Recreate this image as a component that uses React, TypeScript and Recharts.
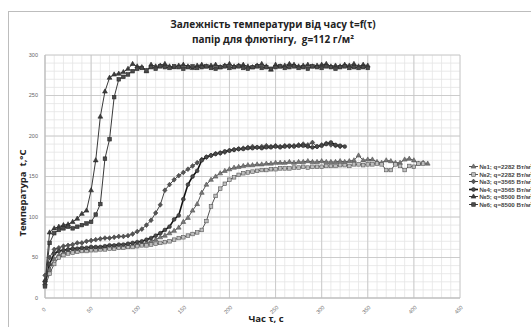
import React from 'react'
import { LineChart, Line, XAxis, YAxis, CartesianGrid } from 'recharts'

// time samples, s
const t1 = Array.from({ length: 84 }, (_, i) => i * 5)
const t2 = Array.from({ length: 83 }, (_, i) => i * 5)
const t3 = Array.from({ length: 65 }, (_, i) => i * 5)
const t4 = Array.from({ length: 66 }, (_, i) => i * 5)
const t5 = Array.from({ length: 71 }, (_, i) => i * 5)
const t6 = Array.from({ length: 71 }, (_, i) => i * 5)

// temperatures, °C
const s1 = [18, 35, 48, 53, 56, 57, 58, 59, 59, 60, 60, 61, 61, 62, 62, 63, 63, 64, 64, 65, 66, 67, 68, 70, 72, 75, 77, 80, 83, 87, 94, 99, 108, 116, 130, 140, 146, 150, 154, 157, 159, 161, 162, 163, 164, 164, 165, 165, 166, 166, 167, 167, 167, 168, 167, 168, 168, 169, 168, 168, 169, 168, 168, 168, 169, 168, 169, 170, 176, 170, 171, 171, 168, 167, 170, 169, 167, 167, 171, 172, 170, 166, 167, 166]
const s2 = [14, 30, 42, 50, 53, 55, 56, 57, 58, 58, 59, 59, 60, 60, 61, 61, 62, 62, 63, 63, 64, 65, 65, 66, 67, 68, 69, 70, 72, 74, 75, 77, 79, 81, 84, 95, 113, 126, 135, 141, 146, 149, 152, 154, 155, 156, 157, 158, 158, 159, 159, 160, 160, 160, 161, 161, 162, 161, 162, 162, 162, 163, 163, 163, 164, 164, 163, 165, 165, 164, 165, 165, 166, 165, 158, 158, 165, 163, 158, 163, 162, 166, 166]
const s3 = [28, 50, 60, 62, 64, 65, 66, 68, 68, 70, 71, 72, 73, 74, 74, 75, 76, 76, 77, 79, 82, 85, 90, 96, 105, 115, 133, 140, 146, 151, 155, 159, 163, 167, 171, 174, 176, 178, 179, 180, 182, 183, 184, 185, 186, 187, 186, 187, 188, 187, 188, 187, 188, 187, 188, 189, 190, 189, 192, 187, 189, 191, 189, 188, 187]
const s4 = [20, 42, 55, 58, 59, 60, 61, 61, 62, 62, 63, 63, 63, 64, 65, 65, 66, 66, 67, 68, 69, 70, 72, 74, 77, 80, 84, 88, 97, 102, 122, 140, 150, 157, 170, 174, 176, 178, 179, 181, 182, 183, 184, 184, 185, 185, 186, 185, 186, 186, 187, 186, 187, 188, 187, 188, 188, 187, 186, 187, 188, 190, 192, 189, 188, 187]
const s5 = [22, 81, 86, 88, 90, 91, 94, 98, 104, 108, 133, 170, 224, 255, 272, 276, 277, 279, 283, 289, 286, 285, 280, 288, 286, 287, 289, 286, 285, 287, 288, 286, 284, 287, 288, 286, 287, 288, 285, 287, 289, 286, 287, 288, 286, 285, 287, 289, 286, 282, 288, 286, 287, 289, 288, 286, 287, 288, 286, 287, 288, 289, 286, 287, 286, 288, 287, 289, 286, 288, 287]
const s6 = [15, 68, 80, 84, 86, 88, 86, 88, 90, 92, 94, 103, 116, 172, 196, 248, 270, 273, 276, 280, 283, 284, 281, 285, 283, 286, 285, 284, 286, 285, 283, 285, 286, 284, 285, 286, 284, 283, 285, 286, 284, 285, 286, 284, 283, 285, 286, 284, 285, 283, 285, 286, 284, 285, 286, 284, 285, 283, 286, 285, 284, 286, 285, 283, 285, 286, 284, 285, 284, 285, 284]

const names = [
  '№1; q=2282 Вт/м²',
  '№2; q=2282 Вт/м²',
  '№3; q=3565 Вт/м²',
  '№4; q=3565 Вт/м²',
  '№5; q=8500 Вт/м²',
  '№6; q=8500 Вт/м²',
]

const xTicks = [0, 50, 100, 150, 200, 250, 300, 350, 400, 450]
const yTicks = [0, 50, 100, 150, 200, 250, 300]
const xMinor = Array.from({ length: 46 }, (_, i) => i * 10)
const yMinor = Array.from({ length: 31 }, (_, i) => i * 10)

const toRows = (ts: number[], vs: number[]) => ts.map((t, i) => ({ t, v: vs[i] }))

type Shape = 'triangle' | 'square' | 'diamond' | 'circle'

interface SeriesCfg {
  name: string
  rows: { t: number; v: number }[]
  shape: Shape
  fill: string
  stroke: string
  line: string
  width: number
}

const series: SeriesCfg[] = [
  { name: names[0], rows: toRows(t1, s1), shape: 'triangle', fill: '#777', stroke: '#555', line: '#555', width: 1 },
  { name: names[1], rows: toRows(t2, s2), shape: 'square', fill: '#bdbdbd', stroke: '#555', line: '#555', width: 1 },
  { name: names[2], rows: toRows(t3, s3), shape: 'diamond', fill: '#555', stroke: '#3a3a3a', line: '#444', width: 1 },
  { name: names[3], rows: toRows(t4, s4), shape: 'circle', fill: '#4a4a4a', stroke: '#2a2a2a', line: '#111', width: 1.6 },
  { name: names[4], rows: toRows(t5, s5), shape: 'triangle', fill: '#3c3c3c', stroke: '#2a2a2a', line: '#3a3a3a', width: 1 },
  { name: names[5], rows: toRows(t6, s6), shape: 'square', fill: '#4a4a4a', stroke: '#2a2a2a', line: '#3a3a3a', width: 1 },
]

// map a value through whatever scale object the axis hands over
function project(axis: any, v: number, lo: number, hi: number, start: number, size: number, flip: boolean) {
  const sc = axis && axis.scale
  if (typeof sc === 'function') return sc(v)
  if (sc && typeof sc.map === 'function') return sc.map(v)
  const f = (v - lo) / (hi - lo)
  return flip ? start + size * (1 - f) : start + size * f
}

function marker(shape: Shape, cx: number, cy: number, fill: string, stroke: string, k?: any) {
  if (shape === 'triangle')
    return <path key={k} d={`M${cx},${cy - 2.6}L${cx + 2.4},${cy + 1.6}L${cx - 2.4},${cy + 1.6}Z`} fill={fill} stroke={stroke} strokeWidth={0.6} />
  if (shape === 'square')
    return <rect key={k} x={cx - 1.8} y={cy - 1.8} width={3.6} height={3.6} fill={fill} stroke={stroke} strokeWidth={0.6} />
  if (shape === 'diamond')
    return <path key={k} d={`M${cx},${cy - 2.4}L${cx + 2.2},${cy}L${cx},${cy + 2.4}L${cx - 2.2},${cy}Z`} fill={fill} stroke={stroke} strokeWidth={0.6} />
  return <circle key={k} cx={cx} cy={cy} r={1.9} fill={fill} stroke={stroke} strokeWidth={0.6} />
}

const makeDot = (s: SeriesCfg) => (p: any) => {
  if (p.cx == null || p.cy == null) return <g key={p.index} />
  return marker(s.shape, p.cx, p.cy, s.fill, s.stroke, p.index)
}

const XTick = (p: any) => (
  <g transform={`translate(${p.x},${p.y + 5})`}>
    <text transform="rotate(-45)" textAnchor="middle" fontSize={5.5} fill="#666" fontFamily="'Liberation Sans', sans-serif">
      {p.payload.value}
    </text>
  </g>
)

const LegendBox = () => (
  <div style={{ position: 'absolute', left: 469, top: 163, fontFamily: "'Liberation Sans', sans-serif", fontSize: 6.2, fontWeight: 700, color: '#444', whiteSpace: 'nowrap' }}>
    {series.map((s) => (
      <div key={s.name} style={{ height: 7.5, display: 'flex', alignItems: 'center' }}>
        <svg width={9} height={7} style={{ marginRight: 1.5 }}>
          <line x1={0} y1={3.5} x2={9} y2={3.5} stroke={s.line} strokeWidth={s.width} />
          {marker(s.shape, 4.5, 3.5, s.fill, s.stroke)}
        </svg>
        <span>{s.name}</span>
      </div>
    ))}
  </div>
)

export default function App() {
  const font = "'Open Sans', sans-serif"
  return (
    <div style={{ position: 'absolute', left: 0, top: 0, width: 531, height: 327, overflow: 'hidden', background: '#fff' }}>
      <div style={{ position: 'absolute', left: 8, top: 11, width: 540, height: 340, border: '1px solid #bdbdbd' }} />
      <div style={{ position: 'absolute', left: 0, top: 17, width: 546, textAlign: 'center', fontFamily: font, fontWeight: 700, fontSize: 10, lineHeight: '15px', color: '#222' }}>
        <div>Залежність температури від часу t=f(τ)</div>
        <div>папір для флютінгу,&nbsp; g=112 г/м²</div>
      </div>
      <LineChart width={531} height={327} margin={{ top: 55, right: 71, left: 0, bottom: 0 }} style={{ position: 'absolute', left: 0, top: 0 }}>
        <CartesianGrid
          stroke="#e4e4e4"
          strokeWidth={0.8}
          verticalCoordinatesGenerator={({ xAxis, offset }: any) => xMinor.map((v) => project(xAxis, v, 0, 450, offset.left, offset.width, false))}
          horizontalCoordinatesGenerator={({ yAxis, offset }: any) => yMinor.map((v) => project(yAxis, v, 0, 300, offset.top, offset.height, true))}
        />
        <CartesianGrid
          stroke="#c4c4c4"
          strokeWidth={0.8}
          verticalCoordinatesGenerator={({ xAxis, offset }: any) => xTicks.map((v) => project(xAxis, v, 0, 450, offset.left, offset.width, false))}
          horizontalCoordinatesGenerator={({ yAxis, offset }: any) => yTicks.map((v) => project(yAxis, v, 0, 300, offset.top, offset.height, true))}
        />
        <XAxis
          type="number"
          dataKey="t"
          domain={[0, 450]}
          ticks={xTicks}
          tick={<XTick />}
          tickLine={false}
          axisLine={{ stroke: '#bbb' }}
          height={29}
          interval={0}
          allowDuplicatedCategory={false}
        />
        <YAxis
          type="number"
          dataKey="v"
          domain={[0, 300]}
          ticks={yTicks}
          width={45}
          tickLine={false}
          tickMargin={1}
          axisLine={{ stroke: '#bbb' }}
          tick={{ fontSize: 5.5, fill: '#666', fontFamily: "'Liberation Sans', sans-serif" }}
        />
        {series.map((s) => (
          <Line
            key={s.name}
            data={s.rows}
            dataKey="v"
            name={s.name}
            type="linear"
            stroke={s.line}
            strokeWidth={s.width}
            dot={makeDot(s)}
            activeDot={false}
            isAnimationActive={false}
          />
        ))}
      </LineChart>
      <LegendBox />
      <div style={{ position: 'absolute', left: 216, top: 313, width: 100, textAlign: 'center', fontFamily: font, fontWeight: 700, fontSize: 9.5, lineHeight: '12px', color: '#222' }}>
        Час τ, с
      </div>
      <div style={{ position: 'absolute', left: 23, top: 193, width: 0, height: 0 }}>
        <div style={{ position: 'absolute', left: -70, top: -6, width: 140, textAlign: 'center', transform: 'rotate(-90deg)', fontFamily: font, fontWeight: 700, fontSize: 9.5, lineHeight: '12px', color: '#222', whiteSpace: 'nowrap' }}>
          Температура&nbsp; t,°C
        </div>
      </div>
    </div>
  )
}
